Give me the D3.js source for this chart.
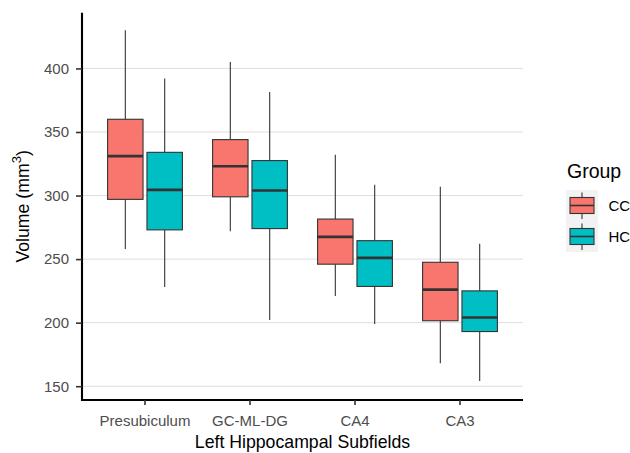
<!DOCTYPE html>
<html>
<head>
<meta charset="utf-8">
<script src="https://cdn.jsdelivr.net/npm/d3@7"></script>
<style>
  body { margin: 0; background: #fff; }
  text { font-family: "Liberation Sans", Arial, sans-serif; }
</style>
</head>
<body>
<div id="chart"></div>
<script>
const subfields = ["Presubiculum", "GC-ML-DG", "CA4", "CA3"];
const groups = ["CC", "HC"];
const colors = ["#F8766D", "#00BFC4"];
// [min, q1, median, q3, max] per subfield
const ccStats = [
    [258, 297, 331, 360, 430],
    [272, 299, 323, 344, 405],
    [221, 246, 267.5, 281.5, 332],
    [168, 201.5, 226, 247.5, 307]
];
const hcStats = [
    [228, 273, 304.5, 334, 392],
    [202, 274, 304, 327.5, 381.5],
    [199, 228.5, 251, 264.5, 308.5],
    [154, 193, 204, 225, 262]
];
const yTicks = [150, 200, 250, 300, 350, 400];

const width = 630, height = 453;
const pLeft = 82, pRight = 523, pTop = 12.7, pBottom = 400;

const svg = d3.select("#chart")
    .append("svg")
    .attr("width", width)
    .attr("height", height);

const y = d3.scaleLinear().domain([139.15, 443.85]).range([pBottom, pTop]);
// one band = one category unit; ggplot expands 0.6 units each side
const u = (pRight - pLeft) / 4.2;
const x = d3.scaleBand().domain(subfields)
    .range([pLeft + 0.1 * u, pRight - 0.1 * u]).padding(0);
const unit = x.bandwidth();

// grid
svg.append("g")
    .selectAll("line")
    .data(yTicks)
    .join("line")
    .attr("x1", pLeft)
    .attr("x2", pRight)
    .attr("y1", d => y(d))
    .attr("y2", d => y(d))
    .attr("stroke", "#DEDEDE")
    .attr("stroke-width", 1);

// boxes
const boxW = unit * 0.3375;
const offsets = [-0.1875, 0.1875];
[ccStats, hcStats].forEach((stats, gi) => {
    const g = svg.append("g");
    stats.forEach((s, i) => {
        const cx = x(subfields[i]) + unit / 2 + offsets[gi] * unit;
        g.append("line")
            .attr("x1", cx).attr("x2", cx)
            .attr("y1", y(s[4])).attr("y2", y(s[3]))
            .attr("stroke", "#333").attr("stroke-width", 1.1);
        g.append("line")
            .attr("x1", cx).attr("x2", cx)
            .attr("y1", y(s[1])).attr("y2", y(s[0]))
            .attr("stroke", "#333").attr("stroke-width", 1.1);
        g.append("rect")
            .attr("x", cx - boxW / 2)
            .attr("y", y(s[3]))
            .attr("width", boxW)
            .attr("height", y(s[1]) - y(s[3]))
            .attr("fill", colors[gi])
            .attr("stroke", "#333").attr("stroke-width", 1.1);
        g.append("line")
            .attr("x1", cx - boxW / 2).attr("x2", cx + boxW / 2)
            .attr("y1", y(s[2])).attr("y2", y(s[2]))
            .attr("stroke", "#333").attr("stroke-width", 2.6);
    });
});

// axes
const yAxis = svg.append("g")
    .attr("transform", `translate(${pLeft},0)`)
    .call(d3.axisLeft(y).tickValues(yTicks).tickSize(6).tickPadding(7));
const xAxis = svg.append("g")
    .attr("transform", `translate(0,${pBottom})`)
    .call(d3.axisBottom(x).tickSize(5).tickPadding(10));
[yAxis, xAxis].forEach(a => {
    a.select(".domain").attr("stroke", "#000").attr("stroke-width", 2.1);
    a.selectAll(".tick line").attr("stroke", "#333").attr("stroke-width", 1.6);
    a.selectAll(".tick text").attr("fill", "#4D4D4D").style("font-size", "15px");
});
xAxis.select(".domain").attr("d", `M${pLeft - 1},0H${pRight}`);
yAxis.select(".domain").attr("d", `M0,${pTop}V${pBottom + 1}`);

// axis titles
svg.append("text")
    .attr("x", (pLeft + pRight) / 2)
    .attr("y", 448)
    .attr("text-anchor", "middle")
    .style("font-size", "17.7px")
    .text("Left Hippocampal Subfields");

const yt = svg.append("text")
    .attr("transform", `translate(29,${(pTop + pBottom) / 2}) rotate(-90)`)
    .attr("text-anchor", "middle")
    .style("font-size", "17.7px");
yt.append("tspan").text("Volume (mm");
yt.append("tspan").attr("dy", -8).style("font-size", "13px").text("3");
yt.append("tspan").attr("dy", 8).text(")");

// legend
const lg = svg.append("g").attr("transform", "translate(566,0)");
lg.append("text")
    .attr("x", 1).attr("y", 178)
    .style("font-size", "19.5px")
    .text("Group");
groups.forEach((gname, i) => {
    const ky = 190 + i * 31;
    lg.append("rect")
        .attr("x", 0).attr("y", ky)
        .attr("width", 32).attr("height", 31)
        .attr("fill", "#F2F2F2");
    lg.append("line")
        .attr("x1", 16).attr("x2", 16)
        .attr("y1", ky + 2.5).attr("y2", ky + 29)
        .attr("stroke", "#333").attr("stroke-width", 1.1);
    lg.append("rect")
        .attr("x", 4).attr("y", ky + 7.5)
        .attr("width", 24).attr("height", 16)
        .attr("fill", colors[i])
        .attr("stroke", "#333").attr("stroke-width", 1.1);
    lg.append("line")
        .attr("x1", 4).attr("x2", 28)
        .attr("y1", ky + 15.5).attr("y2", ky + 15.5)
        .attr("stroke", "#333").attr("stroke-width", 1.6);
    lg.append("text")
        .attr("x", 42.5).attr("y", ky + 20.5)
        .style("font-size", "15px")
        .text(gname);
});
</script>
</body>
</html>
